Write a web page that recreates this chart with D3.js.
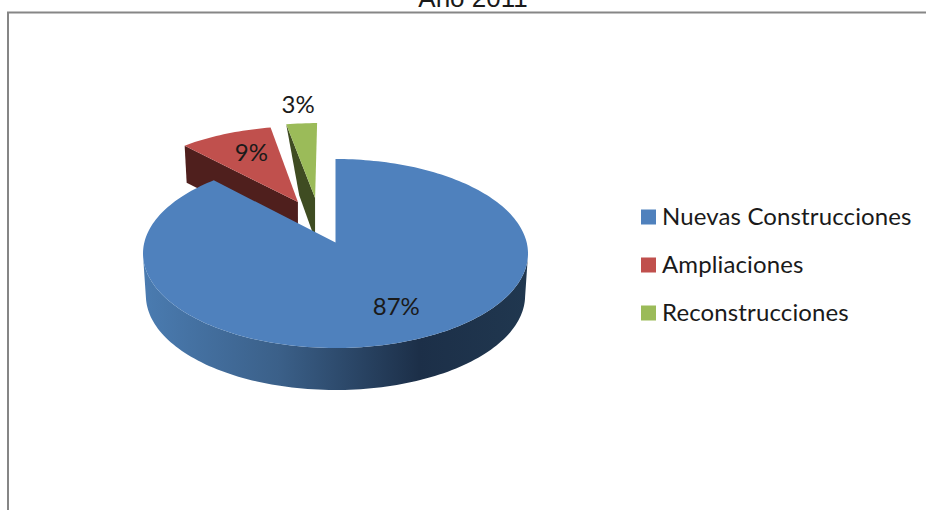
<!DOCTYPE html>
<html>
<head>
<meta charset="utf-8">
<script src="https://cdn.jsdelivr.net/npm/d3@7"></script>
<style>
  html, body { margin: 0; padding: 0; background: #fff; overflow: hidden; }
  text { font-family: Lato, "Open Sans", sans-serif; fill: #1a1a1a; }
</style>
</head>
<body>
<div id="chart"></div>
<script>
// Chart data
const title = "Año 2011"
const categories = ["Nuevas Construcciones", "Ampliaciones", "Reconstrucciones"]
const values = [87, 9, 3]
const topColors = ["#4f81bd", "#c0504d", "#9bbb59"]
const sideColors = ["#1f3550", "#4f1f1d", "#3f4c22"]

const width = 926
const height = 510

const svg = d3.select("#chart").append("svg").attr("width", width).attr("height", height)

// Chart frame, runs off the right and bottom edges
svg.append("path")
  .attr("d", `M8,${height}V12.5H${width}`)
  .attr("fill", "none")
  .attr("stroke", "#868686")
  .attr("stroke-width", 2)

svg.append("text")
  .attr("x", 473)
  .attr("y", 7)
  .attr("text-anchor", "middle")
  .style("font-family", "'Liberation Sans', Arial, sans-serif")
  .style("font-size", "26px")
  .text(title)

// Ellipse of the pie's top face
const cx = 335.5
const cy = 253.5
const rx = 192.5
const ry = 94.5
const tilt = 0.116 // perspective: moves the pie centre towards the far edge
const depth = 42

// Slices, starting at 12 o'clock and going clockwise
const pie = d3.pie().value((d) => d).sort(null)
const arcs = pie(values)

// Disc coordinates (u right, v away from the viewer) to the screen
function project(u, v) {
  const w = 1 + tilt * v
  return [cx + (rx * u * Math.sqrt(1 - tilt * tilt)) / w, cy - (ry * (v + tilt)) / w]
}

// How far each slice is pulled out of the pie, in disc units
const pulls = [
  [0, 0],
  [-0.207, 0.458],
  [-0.113, 0.505],
]

function slicePoint(i, r, a) {
  return project(r * Math.sin(a) + pulls[i][0], r * Math.cos(a) + pulls[i][1])
}

function rimPoints(i) {
  const { startAngle, endAngle } = arcs[i]
  const steps = Math.ceil((endAngle - startAngle) * 40)
  return d3.range(steps + 1).map((k) => slicePoint(i, 1, startAngle + ((endAngle - startAngle) * k) / steps))
}

const line = d3.line()

// Gradient on the rounded wall of the big slice
const defs = svg.append("defs")
const wallGradient = defs.append("linearGradient")
  .attr("id", "wall")
  .attr("gradientUnits", "userSpaceOnUse")
  .attr("x1", 145)
  .attr("x2", 526)
  .attr("y1", 0)
  .attr("y2", 0)
wallGradient.append("stop").attr("offset", "0").attr("stop-color", "#4a7bb0")
wallGradient.append("stop").attr("offset", "0.35").attr("stop-color", "#3b6089")
wallGradient.append("stop").attr("offset", "0.72").attr("stop-color", "#1c2f48")
wallGradient.append("stop").attr("offset", "1").attr("stop-color", "#20374f")

// Cut faces of the pulled-out slices
const redRim = rimPoints(1)
const redApex = slicePoint(1, 0, 0)
svg.append("path")
  .attr("d", line([
    redRim[0],
    redApex,
    [redApex[0], redApex[1] + 37],
    [redRim[0][0] + 2, redRim[0][1] + 37],
  ]) + "Z")
  .attr("fill", sideColors[1])

const greenRim = rimPoints(2)
const greenApex = slicePoint(2, 0, 0)
svg.append("path")
  .attr("d", line([
    greenRim[0],
    greenApex,
    [greenApex[0], greenApex[1] + 36],
    [greenApex[0] - 2, greenApex[1] + 36],
    [greenRim[0][0] + 13, greenRim[0][1] + 71],
  ]) + "Z")
  .attr("fill", sideColors[2])

// Top faces of the pulled-out slices
svg.append("path").attr("d", line([redApex, ...redRim]) + "Z").attr("fill", topColors[1])
svg.append("path").attr("d", line([greenApex, ...greenRim]) + "Z").attr("fill", topColors[2])

// Big slice: outer wall, then top face
const bigRim = rimPoints(0)
const nearRim = bigRim.filter((p) => p[1] >= cy)
const wallShape = [
  ...nearRim,
  ...nearRim.slice().reverse().map((p) => [cx + (p[0] - cx) * 0.985, p[1] + depth]),
]
svg.append("path").attr("d", line(wallShape) + "Z").attr("fill", "url(#wall)")

svg.append("path")
  .attr("d", line([slicePoint(0, 0, 0), ...bigRim]) + "Z")
  .attr("fill", topColors[0])

// Percentage labels
const labelRadius = [0.7, 0.62, 1.29]
const labelShift = [[7, -1], [0, -6], [0, 0]]
arcs.forEach((slice, i) => {
  const mid = (slice.startAngle + slice.endAngle) / 2
  const [x, y] = slicePoint(i, labelRadius[i], mid)
  svg.append("text")
    .attr("x", x + labelShift[i][0])
    .attr("y", y + labelShift[i][1])
    .attr("dy", "0.35em")
    .attr("text-anchor", "middle")
    .style("font-size", "24px")
    .text(`${values[i]}%`)
})

// Legend
const legendY = d3.scalePoint().domain(categories).range([217, 313])
const legend = svg.append("g")
  .selectAll("g")
  .data(categories)
  .enter()
  .append("g")
  .attr("transform", (d) => `translate(641,${legendY(d)})`)

legend.append("rect")
  .attr("x", 0)
  .attr("y", -7.5)
  .attr("width", 15)
  .attr("height", 15)
  .attr("fill", (d, i) => topColors[i])

legend.append("text")
  .attr("x", 21)
  .attr("dy", "0.35em")
  .style("font-size", "24px")
  .style("letter-spacing", "0.13px")
  .text((d) => d)
</script>
</body>
</html>
